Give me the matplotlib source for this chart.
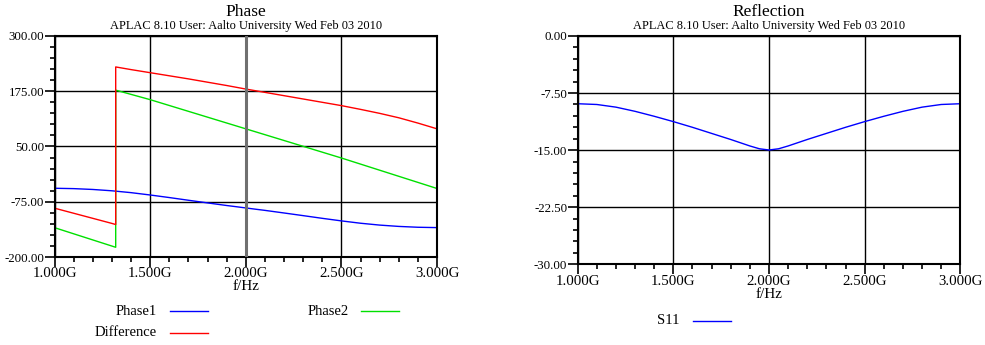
import numpy as np
import matplotlib
matplotlib.use('agg')
import matplotlib.pyplot as plt
from matplotlib.ticker import MultipleLocator, FixedLocator, FuncFormatter

plt.rcParams['font.family'] = ['Liberation Serif', 'DejaVu Serif']

# frequency grid in GHz
freq = [1.0, 1.1, 1.2, 1.3, 1.4, 1.5, 1.6, 1.7, 1.8, 1.9, 1.95, 2.0,
        2.05, 2.1, 2.2, 2.3, 2.4, 2.5, 2.6, 2.7, 2.8, 2.9, 3.0]
phase1 = [-44.5, -45.3, -47.2, -50.2, -54.4, -59.7, -65.5, -71.6, -77.6, -83.5, -86.2, -89.0,
          -91.8, -94.5, -100.4, -106.4, -112.5, -118.3, -123.6, -127.8, -130.8, -132.7, -133.5]
s11 = [-8.9, -9.0, -9.35, -9.9, -10.55, -11.25, -12.0, -12.8, -13.6, -14.45, -14.82, -14.98,
       -14.82, -14.45, -13.6, -12.8, -12.0, -11.25, -10.55, -9.9, -9.35, -9.0, -8.9]

# wrapped phases (jump near 1.32 GHz)
freq2 = [1.0, 1.32, 1.32, 1.5, 2.0, 2.5, 3.0]
phase2 = [-133.6, -178.0, 177.5, 156.0, 90.0, 24.0, -45.0]
freq_d = [1.0, 1.1, 1.2, 1.3, 1.32, 1.32, 1.4, 1.5, 1.6, 1.7, 1.8, 1.9, 2.0,
          2.1, 2.2, 2.3, 2.4, 2.5, 2.6, 2.7, 2.8, 2.9, 3.0]
difference = [-89.5, -101.0, -112.5, -124.0, -126.5, 230.0, 224.0, 217.0, 210.0, 203.0,
              195.5, 188.0, 180.0, 172.5, 165.0, 157.5, 150.0, 142.5, 134.0, 125.0,
              115.0, 103.0, 90.0]

phase_ticks = [-200, -75, 50, 175, 300]
refl_ticks = [-30, -22.5, -15, -7.5, 0]
subtitle = 'APLAC 8.10 User: Aalto University Wed Feb 03 2010'

fig = plt.figure(figsize=(9.85, 3.45), dpi=100)
ax1 = fig.add_axes([54.5/985, 1-257/345, 382.5/985, 221/345])
ax2 = fig.add_axes([577.7/985, 1-264.3/345, 382.6/985, 228.3/345])


def style(ax, ticks, yminor):
    ax.set_xlim(1.0, 3.0)
    ax.set_ylim(ticks[0], ticks[-1])
    ax.xaxis.set_major_locator(MultipleLocator(0.5))
    ax.xaxis.set_minor_locator(MultipleLocator(0.1))
    ax.yaxis.set_major_locator(FixedLocator(ticks))
    ax.yaxis.set_minor_locator(MultipleLocator(yminor))
    ax.xaxis.set_major_formatter(FuncFormatter(lambda v, p: '%.3fG' % v))
    ax.yaxis.set_major_formatter(FuncFormatter(lambda v, p: '%.2f' % v))
    ax.tick_params(which='major', direction='out', length=7, width=1.2,
                   pad=0.5, colors='black')
    ax.tick_params(axis='x', which='major', labelsize=10.7)
    ax.tick_params(axis='y', which='major', labelsize=9.3)
    ax.tick_params(which='minor', direction='out', length=3.5, width=1.2)
    for s in ax.spines.values():
        s.set_linewidth(1.5)
    ax.grid(True, which='major', color='black', linewidth=1.0)
    ax.set_xlabel('f/Hz', fontsize=11, labelpad=0)


style(ax1, phase_ticks, 25)
style(ax2, refl_ticks, 1.5)

ax1.plot(freq, phase1, color='blue', lw=1)
ax1.plot(freq2, phase2, color='#00e000', lw=1)
ax1.plot(freq_d, difference, color='red', lw=1)
ax1.axvline(2.0, color='#707070', lw=2.2, zorder=2.6)

ax2.plot(freq, s11, color='blue', lw=1)

# titles
fig.text(245.7/985, 1-12/345, 'Phase', ha='center', va='center', fontsize=12.5)
fig.text(245.7/985, 1-25.7/345, subtitle, ha='center', va='center', fontsize=8.9)
fig.text(769/985, 1-12/345, 'Reflection', ha='center', va='center', fontsize=12.5)
fig.text(769/985, 1-25.7/345, subtitle, ha='center', va='center', fontsize=8.9)

# legend entries
legend_items = [
    ('Phase1', 'blue', 156.7, 311.3, 170, 207.7),
    ('Phase2', '#00e000', 348.3, 311.3, 361, 399),
    ('Difference', 'red', 156.7, 332.7, 170, 207.7),
    ('S11', 'blue', 679, 320.7, 692.7, 730.7),
]
for name, col, tx, ty, x0, x1 in legend_items:
    fig.text(tx/985, 1-ty/345, name, ha='right', va='center', fontsize=10.5)
    fig.add_artist(plt.Line2D([x0/985, x1/985], [1-ty/345, 1-ty/345], color=col, lw=1))

fig.savefig('out.png', dpi=100)
plt.close()
